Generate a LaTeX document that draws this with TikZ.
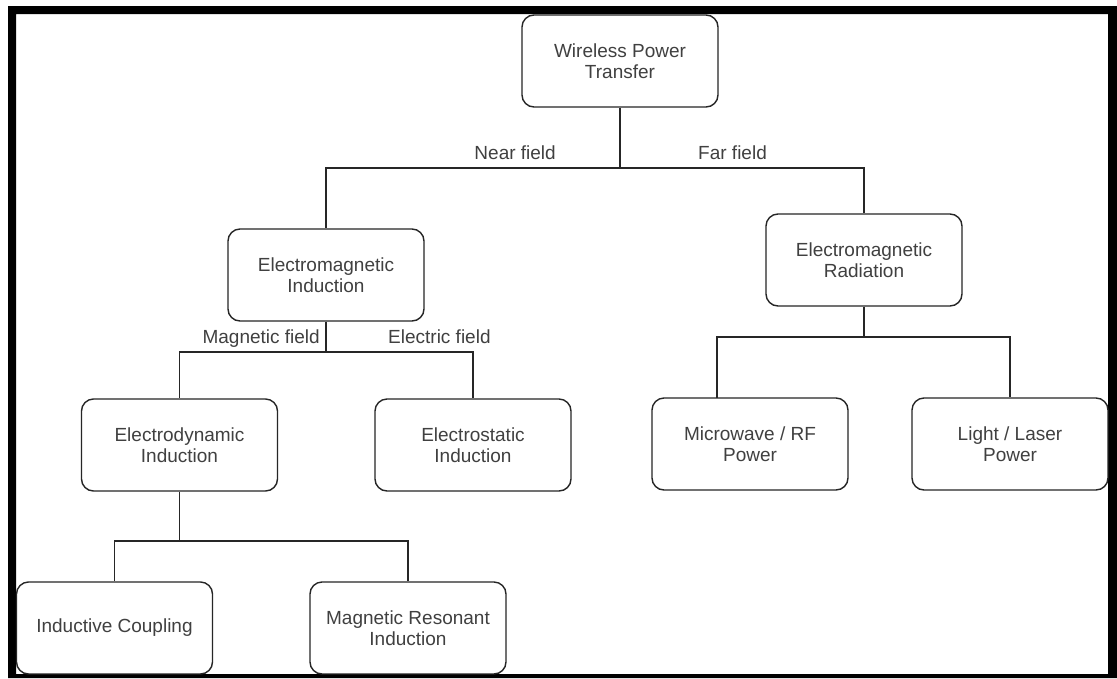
\documentclass[tikz,border=0pt]{standalone}
\usepackage{fontspec}
\setmainfont{Liberation Sans}
\definecolor{linec}{HTML}{262626}
\definecolor{textc}{HTML}{404040}
\begin{document}
\begin{tikzpicture}[x=1pt,y=-1pt,
  box/.style={draw=linec, line width=1.4pt, rounded corners=12pt, minimum width=196pt, minimum height=92pt, inner sep=0pt, align=center, text=textc, font=\fontsize{19}{21.5}\selectfont},
  conn/.style={draw=linec, line width=1.3pt},
  lbl/.style={text=textc, font=\fontsize{19}{21.5}\selectfont, inner sep=0pt}]
\useasboundingbox (0,0) rectangle (1117,678);
\fill[white] (0,0) rectangle (1117,678);
% frame
\fill[black, even odd rule] (8,6) rectangle (1117,678) (16,14) rectangle (1108,674);
% nodes
\node[box] (wpt) at (620,61) {Wireless Power\\Transfer};
\node[box] (emi) at (326,275) {Electromagnetic\\Induction};
\node[box] (emr) at (864,260) {Electromagnetic\\Radiation};
\node[box] (edi) at (179.5,445) {Electrodynamic\\Induction};
\node[box] (esi) at (473,445) {Electrostatic\\Induction};
\node[box] (mw) at (750,444) {Microwave / RF\\Power};
\node[box] (ll) at (1010,444) {Light / Laser\\Power};
\node[box] (ic) at (114.5,628) {Inductive Coupling};
\node[box] (mri) at (408,628) {Magnetic Resonant\\Induction};
% bus points
\coordinate (b1) at (620,168);
\coordinate (b2) at (326,352);
\coordinate (b3) at (864,337);
\coordinate (b4) at (179.5,541);
\coordinate (mwin) at (717,398);
% connectors
\draw[conn] (wpt.south) -- (b1) -| (emi.north);
\draw[conn] (b1) -| (emr.north);
\draw[conn] (emi.south) -- (b2) -| (edi.north);
\draw[conn] (b2) -| (esi.north);
\draw[conn] (emr.south) -- (b3) -| (mwin);
\draw[conn] (b3) -| (ll.north);
\draw[conn] (edi.south) -- (b4) -| (ic.north);
\draw[conn] (b4) -| (mri.north);
% labels
\node[lbl, anchor=base east] (nf) at (556,159) {Near field};
\node[lbl, anchor=base west] (ff) at (698,159) {Far field};
\node[lbl, anchor=base east] (mf) at (320,343) {Magnetic field};
\node[lbl, anchor=base west] (ef) at (388,343) {Electric field};
\end{tikzpicture}
\end{document}
